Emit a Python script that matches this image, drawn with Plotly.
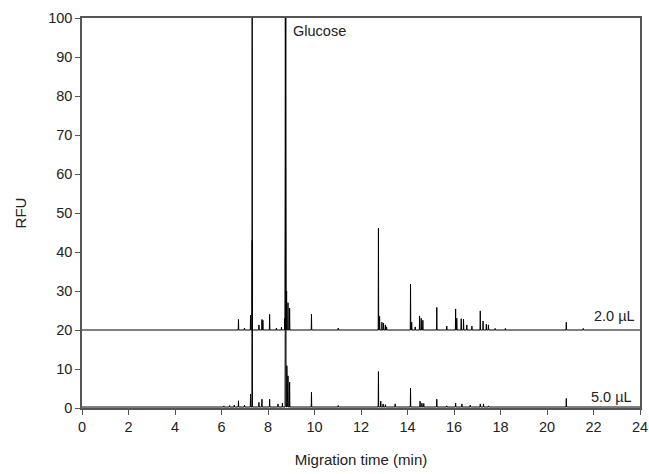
import plotly.graph_objects as go

# Upper trace (2.0 µL), offset baseline 20: peak times (min) and heights above baseline (RFU)
upper_offset = 20
upper_t = [6.73, 6.99, 7.25, 7.32, 7.61, 7.74, 7.78, 8.07, 8.36, 8.58, 8.72, 8.745, 8.765, 8.80, 8.86, 8.93,
           9.87, 11.02, 12.75, 12.80, 12.90, 12.97, 13.05, 13.10, 14.13, 14.18, 14.33, 14.52, 14.59, 14.66,
           15.26, 15.69, 16.07, 16.12, 16.31, 16.41, 16.55, 16.77, 17.13, 17.25, 17.39, 17.48, 17.77,
           18.21, 20.83, 21.56]
upper_h = [2.7, 0.5, 3.8, 23.0, 1.3, 2.7, 2.5, 4.0, 0.5, 0.7, 3.0, 95.0, 95.0, 10.0, 7.0, 5.6,
           4.1, 0.5, 26.1, 3.5, 2.0, 1.8, 1.3, 0.8, 11.8, 2.0, 0.8, 3.6, 3.0, 2.5,
           5.8, 1.0, 5.4, 3.0, 2.9, 2.8, 1.3, 1.0, 4.9, 2.3, 1.5, 1.3, 0.4,
           0.4, 2.0, 0.4]

# Lower trace (5.0 µL), baseline 0
lower_base = 0.25
lower_t = [6.10, 6.35, 6.55, 6.73, 6.99, 7.25, 7.32, 7.61, 7.74, 8.07, 8.43, 8.62, 8.745, 8.765, 8.81, 8.86, 8.93,
           9.87, 11.02, 12.75, 12.85, 12.95, 13.05, 13.47, 14.13, 14.54, 14.62, 14.70, 15.26, 15.69,
           16.07, 16.34, 16.70, 17.13, 17.27, 17.48, 20.83]
lower_h = [0.3, 0.4, 0.5, 1.6, 0.5, 3.3, 105.0, 1.2, 2.0, 2.0, 0.8, 1.0, 105.0, 105.0, 10.6, 8.0, 6.4,
           3.8, 0.4, 9.1, 1.5, 0.8, 0.6, 0.8, 4.8, 1.5, 1.0, 0.9, 2.0, 0.3,
           1.0, 0.8, 0.5, 0.8, 0.8, 0.3, 2.2]

x_ticks = list(range(0, 25, 2))
y_ticks = list(range(0, 101, 10))
labels = ["2.0 µL", "5.0 µL"]


def spikes(times, heights, base, t0=0.0, t1=24.0, w=0.011):
    xs, ys = [t0], [base]
    for t, h in sorted(zip(times, heights)):
        xs += [t - w, t, t + w]
        ys += [base, base + h, base]
    xs.append(t1)
    ys.append(base)
    return xs, ys


ux, uy = spikes(upper_t, upper_h, upper_offset)
lx, ly = spikes(lower_t, lower_h, lower_base)

fig = go.Figure()
fig.add_trace(go.Scatter(x=ux, y=uy, mode="lines", line=dict(color="black", width=1), showlegend=False,
                         hoverinfo="skip"))
fig.add_trace(go.Scatter(x=lx, y=ly, mode="lines", line=dict(color="black", width=1), showlegend=False,
                         hoverinfo="skip"))

txt_font = dict(size=14.5, color="#222")
fig.add_annotation(x=8.98, y=96.6, text="Glucose", showarrow=False, xanchor="left", yanchor="middle", font=txt_font)
fig.add_annotation(x=23.87, y=23.6, text=labels[0], showarrow=False, xanchor="right", yanchor="middle", font=txt_font)
fig.add_annotation(x=23.75, y=2.9, text=labels[1], showarrow=False, xanchor="right", yanchor="middle", font=txt_font)

axis_common = dict(showline=True, linecolor="#555", linewidth=1.5, mirror=True, ticks="outside",
                   ticklen=5, tickcolor="#555", tickwidth=1, showgrid=False, zeroline=False,
                   tickfont=dict(size=14.5, color="#222"))
fig.update_xaxes(range=[0, 24], tickvals=x_ticks,
                 title=dict(text="Migration time (min)", font=dict(size=15, color="#222"), standoff=20),
                 **axis_common)
fig.update_yaxes(range=[0, 100], tickvals=y_ticks,
                 title=dict(text="RFU", font=dict(size=15, color="#222"), standoff=18),
                 **axis_common)

fig.update_layout(width=649, height=474, margin=dict(l=82, r=9, t=18, b=66, autoexpand=False),
                  plot_bgcolor="white", paper_bgcolor="white",
                  font=dict(family="Liberation Sans, Arial, sans-serif"))

fig.write_html("out.html", config={"displayModeBar": False},
               post_script="document.body.style.margin='0';document.body.style.overflow='hidden';")
